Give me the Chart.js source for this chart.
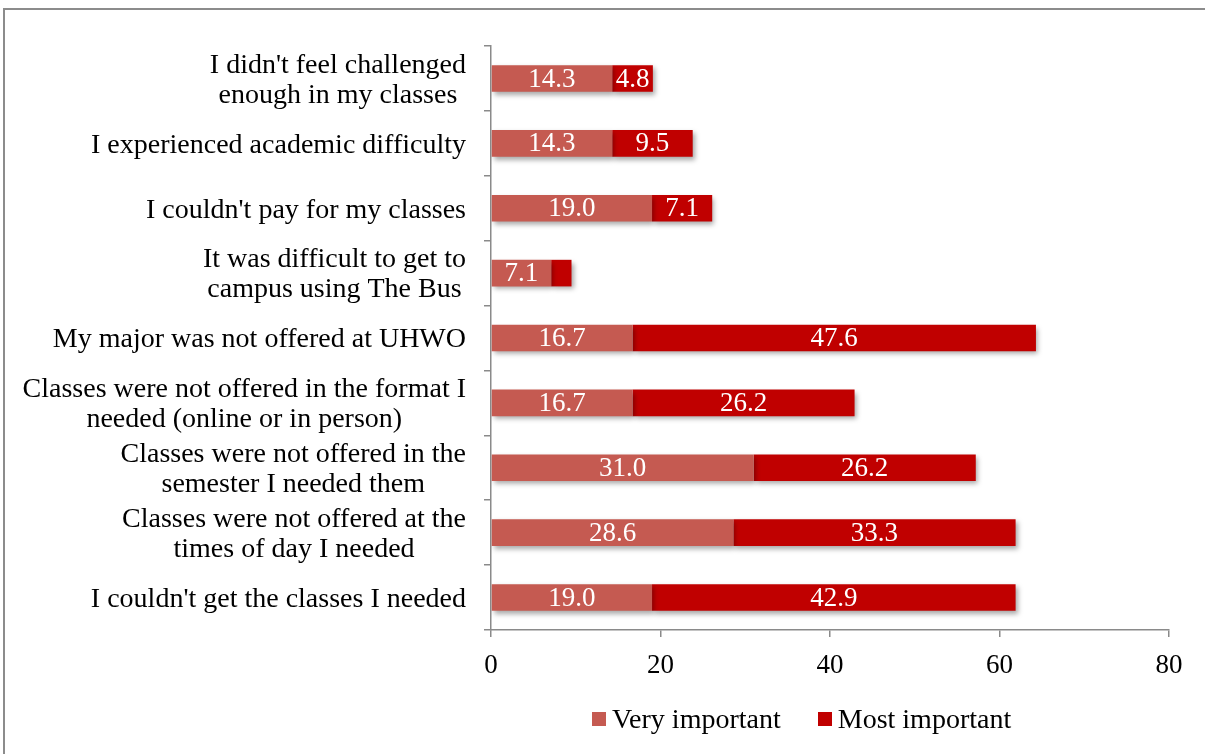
<!DOCTYPE html>
<html>
<head>
<meta charset="utf-8">
<script src="https://cdn.jsdelivr.net/npm/chart.js@4.4.1/dist/chart.umd.min.js"></script>
<style>
  html, body { margin: 0; padding: 0; background: #fff; overflow: hidden; }
  #frame { position: absolute; left: 3px; top: 8px; width: 1230px; height: 790px; border: 2px solid #8c8c8c; box-sizing: border-box; }
  #chart { position: absolute; left: 0; top: 0; }
  #legend { position: absolute; left: 592px; top: 703px; font: 28px "Liberation Serif", serif; color: #000; display: flex; align-items: center; }
  #legend span.box { display: inline-block; width: 14px; height: 14px; margin-right: 6px; }
  #legend span.item { display: flex; align-items: center; margin-right: 37px; }
</style>
</head>
<body>
<div id="frame"></div>
<canvas id="chart" width="1205" height="754"></canvas>
<div id="legend"></div>
<script>
const categories = [
  ["I didn't feel challenged", "enough in my classes"],
  "I experienced academic difficulty",
  "I couldn't pay for my classes",
  ["It was difficult to get to", "campus using The Bus"],
  "My major was not offered at UHWO",
  ["Classes were not offered in the format I", "needed (online or in person)"],
  ["Classes were not offered in the", "semester I needed them"],
  ["Classes were not offered at the", "times of day I needed"],
  "I couldn't get the classes I needed"
];
const veryImportant = [14.3, 14.3, 19.0, 7.1, 16.7, 16.7, 31.0, 28.6, 19.0];
const mostImportant = [4.8, 9.5, 7.1, 2.4, 47.6, 26.2, 26.2, 33.3, 42.9];
const xTicks = [0, 20, 40, 60, 80];

const seriesNames = ['Very important', 'Most important'];
const seriesColors = ['#C55A51', '#C00000'];
const axisColor = '#8a8a8a';
const serif = '"Liberation Serif", serif';

// bar shadows + value labels + centred multi-line category labels
const drawPlugin = {
  id: 'drawPlugin',
  beforeDatasetsDraw(chart) {
    const ctx = chart.ctx;
    ctx.save();
    ctx.shadowColor = 'rgba(0,0,0,0.35)';
    ctx.shadowBlur = 5;
    ctx.shadowOffsetX = 2;
    ctx.shadowOffsetY = 3;
  },
  afterDatasetsDraw(chart) {
    const ctx = chart.ctx;
    ctx.restore();
    ctx.save();
    ctx.font = '27px ' + serif;
    ctx.textAlign = 'center';
    ctx.textBaseline = 'middle';
    ctx.fillStyle = '#fff';
    chart.data.datasets.forEach((ds, i) => {
      chart.getDatasetMeta(i).data.forEach((bar, j) => {
        const p = bar.getProps(['x', 'base', 'y'], true);
        if (Math.abs(p.x - p.base) < 30) return;
        ctx.fillText(ds.data[j].toFixed(1), (p.x + p.base) / 2, p.y + 1);
      });
    });
    const yScale = chart.scales.y;
    const right = chart.chartArea.left - 25;
    ctx.font = '28px ' + serif;
    ctx.fillStyle = '#000';
    categories.forEach((lab, i) => {
      const lines = Array.isArray(lab) ? lab : [lab];
      const w = Math.max(...lines.map(l => ctx.measureText(l).width));
      const cx = right - w / 2;
      const yc = yScale.getPixelForValue(i) + 2;
      lines.forEach((l, k) => {
        ctx.fillText(l, cx, yc + (k - (lines.length - 1) / 2) * 30);
      });
    });
    ctx.restore();
  }
};

new Chart(document.getElementById('chart'), {
  type: 'bar',
  data: {
    labels: categories,
    datasets: [
      { label: seriesNames[0], data: veryImportant, backgroundColor: seriesColors[0] },
      { label: seriesNames[1], data: mostImportant, backgroundColor: seriesColors[1] }
    ]
  },
  options: {
    indexAxis: 'y',
    responsive: false,
    devicePixelRatio: 1,
    animation: false,
    events: [],
    layout: { padding: { left: 0, top: 46, right: 36, bottom: 60 } },
    datasets: { bar: { barPercentage: 0.41, categoryPercentage: 1 } },
    plugins: { legend: { display: false }, tooltip: { enabled: false } },
    scales: {
      y: {
        stacked: true,
        ticks: { display: false },
        grid: { offset: true, drawOnChartArea: false, tickLength: 7, color: axisColor, lineWidth: 1.5 },
        border: { color: axisColor, width: 1.5 },
        afterFit(scale) { scale.width = 491; }
      },
      x: {
        stacked: true,
        min: xTicks[0],
        max: xTicks[xTicks.length - 1],
        afterBuildTicks(scale) { scale.ticks = xTicks.map(v => ({ value: v })); },
        ticks: { color: '#000', font: { family: serif, size: 27 }, padding: 13 },
        grid: { drawOnChartArea: false, tickLength: 7, color: axisColor, lineWidth: 1.5 },
        border: { color: axisColor, width: 1.5 },
        afterFit(scale) { scale.height = 64; }
      }
    }
  },
  plugins: [drawPlugin]
});

const legend = document.getElementById('legend');
seriesNames.forEach((name, i) => {
  const item = document.createElement('span');
  item.className = 'item';
  item.innerHTML = `<span class="box" style="background:${seriesColors[i]}"></span>${name}`;
  legend.appendChild(item);
});
</script>
</body>
</html>
